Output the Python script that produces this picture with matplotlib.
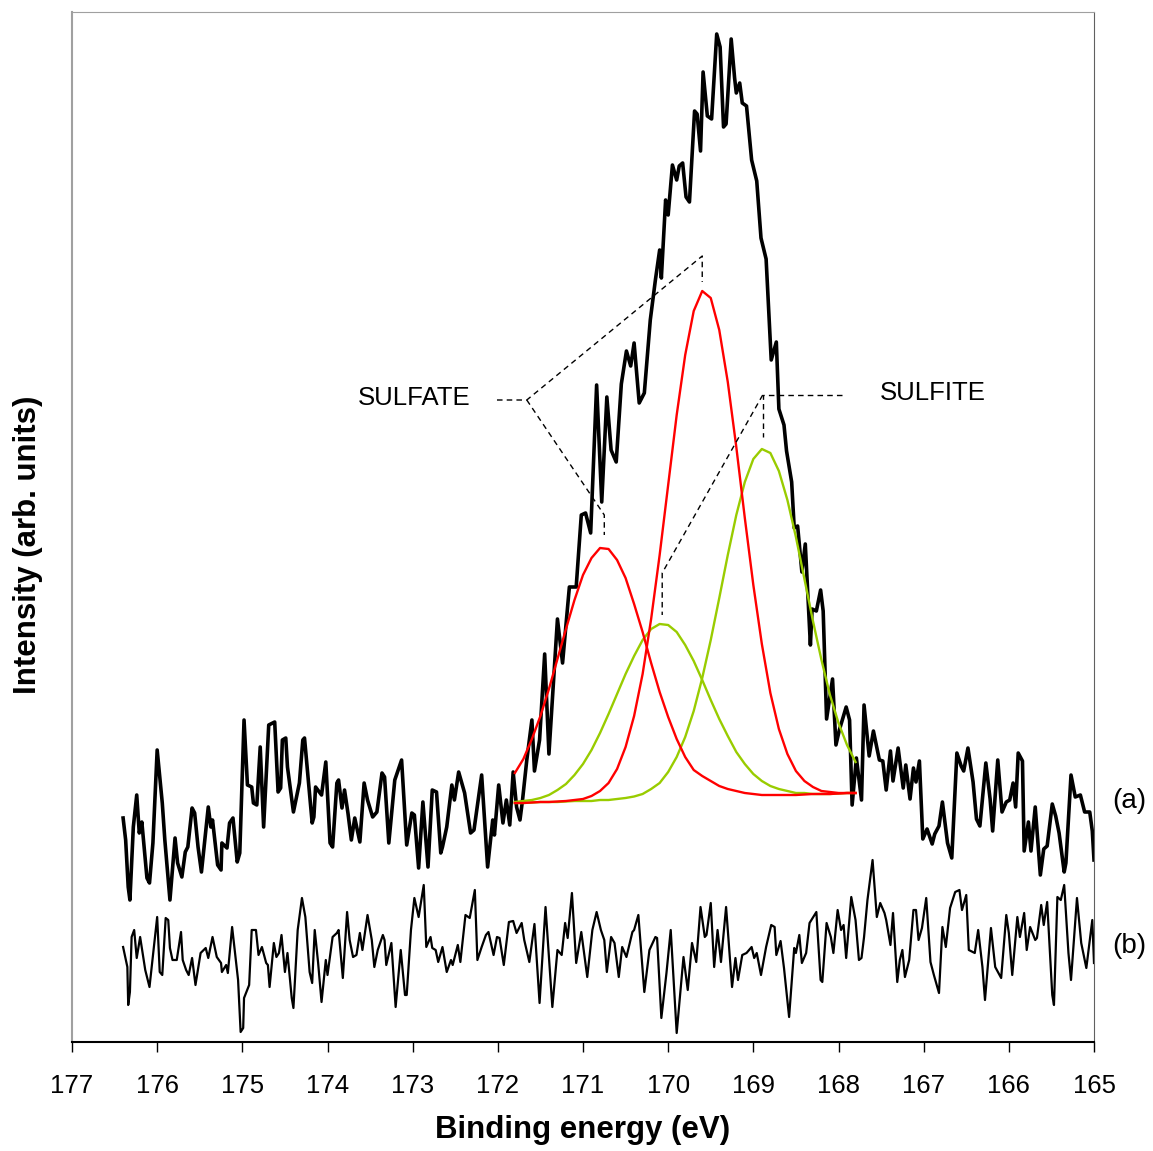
import matplotlib
matplotlib.use("Agg")
import matplotlib.pyplot as plt

plt.rcParams['font.family'] = ['Liberation Sans', 'DejaVu Sans']

# spectrum (a): binding energy (eV) and intensity (arb. units)
energy_a = [176.40, 176.37, 176.34, 176.32, 176.28, 176.24, 176.21, 176.18, 176.12, 176.09,
            176.05, 176.00, 175.94, 175.91, 175.85, 175.79, 175.76, 175.71, 175.67, 175.64,
            175.59, 175.56, 175.52, 175.48, 175.40, 175.37, 175.35, 175.29, 175.25, 175.24,
            175.18, 175.15, 175.11, 175.06, 175.03, 174.98, 174.94, 174.89, 174.87, 174.83,
            174.79, 174.75, 174.69, 174.62, 174.58, 174.55, 174.53, 174.49, 174.47, 174.40,
            174.33, 174.29, 174.27, 174.18, 174.16, 174.14, 174.07, 174.02, 173.97, 173.94,
            173.89, 173.87, 173.83, 173.80, 173.76, 173.72, 173.68, 173.62, 173.57, 173.53,
            173.47, 173.42, 173.36, 173.33, 173.28, 173.21, 173.13, 173.07, 173.01, 172.98,
            172.93, 172.88, 172.82, 172.77, 172.72, 172.67, 172.65, 172.60, 172.54, 172.51,
            172.46, 172.39, 172.32, 172.28, 172.19, 172.12, 172.06, 172.04, 171.99, 171.94,
            171.90, 171.86, 171.82, 171.78, 171.74, 171.71, 171.66, 171.60, 171.57, 171.51,
            171.45, 171.40, 171.30, 171.24, 171.16, 171.08, 171.02, 170.97, 170.91, 170.84,
            170.78, 170.72, 170.67, 170.61, 170.55, 170.49, 170.44, 170.40, 170.34, 170.28,
            170.21, 170.15, 170.10, 170.08, 170.03, 170.00, 169.95, 169.90, 169.87, 169.83,
            169.79, 169.75, 169.69, 169.66, 169.62, 169.59, 169.54, 169.49, 169.43, 169.39,
            169.35, 169.32, 169.26, 169.22, 169.20, 169.16, 169.13, 169.08, 169.02, 168.96,
            168.91, 168.85, 168.79, 168.73, 168.70, 168.64, 168.61, 168.55, 168.52, 168.48,
            168.43, 168.39, 168.33, 168.31, 168.26, 168.21, 168.18, 168.14, 168.07, 168.03,
            167.99, 167.91, 167.87, 167.84, 167.79, 167.73, 167.70, 167.64, 167.59, 167.52,
            167.48, 167.44, 167.39, 167.36, 167.30, 167.24, 167.21, 167.16, 167.12, 167.09,
            167.05, 167.01, 166.96, 166.90, 166.87, 166.82, 166.78, 166.72, 166.67, 166.61,
            166.56, 166.53, 166.48, 166.42, 166.38, 166.34, 166.27, 166.22, 166.19, 166.13,
            166.08, 166.03, 165.99, 165.95, 165.92, 165.89, 165.84, 165.82, 165.77, 165.74,
            165.69, 165.63, 165.59, 165.55, 165.49, 165.45, 165.41, 165.35, 165.33, 165.27,
            165.22, 165.16, 165.11, 165.05, 165.02, 165.00]
intensity_a = [224, 202, 155, 142, 215, 247, 209, 220, 164, 159,
               199, 292, 239, 202, 142, 204, 179, 165, 190, 195,
               234, 229, 195, 170, 235, 215, 222, 177, 172, 199,
               194, 219, 224, 180, 189, 322, 257, 255, 239, 237,
               295, 215, 317, 320, 250, 254, 302, 304, 275, 230,
               259, 302, 304, 219, 225, 255, 247, 280, 199, 195,
               259, 262, 234, 252, 229, 202, 224, 200, 259, 242,
               225, 230, 269, 265, 199, 262, 282, 197, 229, 227,
               174, 240, 175, 252, 250, 189, 195, 215, 257, 242,
               270, 249, 209, 212, 267, 175, 222, 207, 257, 219,
               242, 217, 270, 235, 222, 242, 282, 322, 271, 302,
               388, 288, 423, 379, 455, 455, 527, 529, 509, 657,
               540, 645, 592, 580, 658, 691, 676, 699, 639, 649,
               722, 762, 792, 764, 842, 827, 877, 862, 876, 879,
               845, 840, 931, 928, 891, 970, 926, 923, 1008, 995,
               915, 918, 1003, 964, 949, 959, 939, 936, 882, 861,
               804, 783, 682, 700, 633, 617, 591, 560, 514, 516,
               470, 498, 397, 433, 431, 452, 431, 323, 363, 297,
               312, 335, 322, 237, 284, 242, 337, 286, 311, 282,
               281, 252, 291, 261, 294, 254, 277, 243, 274, 260,
               281, 203, 213, 198, 208, 216, 240, 199, 184, 289,
               276, 271, 294, 260, 223, 216, 279, 243, 211, 282,
               230, 240, 242, 259, 235, 289, 281, 191, 220, 191,
               235, 167, 193, 196, 238, 226, 209, 170, 179, 267,
               245, 247, 230, 230, 211, 182]

# spectrum (b)
energy_b = [176.40, 176.35, 176.34, 176.32, 176.30, 176.27, 176.24, 176.20, 176.18, 176.14,
            176.09, 176.00, 175.97, 175.94, 175.90, 175.87, 175.85, 175.82, 175.77, 175.72,
            175.70, 175.66, 175.63, 175.59, 175.55, 175.49, 175.43, 175.40, 175.35, 175.30,
            175.25, 175.24, 175.19, 175.17, 175.12, 175.05, 175.02, 174.99, 174.98, 174.92,
            174.89, 174.84, 174.81, 174.77, 174.72, 174.70, 174.68, 174.63, 174.60, 174.57,
            174.54, 174.50, 174.47, 174.42, 174.40, 174.35, 174.30, 174.26, 174.21, 174.18,
            174.15, 174.11, 174.07, 174.02, 174.00, 173.94, 173.89, 173.87, 173.82, 173.77,
            173.74, 173.70, 173.66, 173.62, 173.59, 173.53, 173.48, 173.45, 173.41, 173.35,
            173.33, 173.31, 173.25, 173.20, 173.14, 173.09, 173.07, 173.02, 172.98, 172.93,
            172.87, 172.84, 172.79, 172.77, 172.73, 172.70, 172.65, 172.60, 172.55, 172.53,
            172.47, 172.44, 172.38, 172.33, 172.27, 172.24, 172.19, 172.14, 172.11, 172.05,
            172.01, 171.98, 171.93, 171.87, 171.82, 171.78, 171.72, 171.69, 171.63, 171.57,
            171.51, 171.44, 171.36, 171.30, 171.25, 171.21, 171.18, 171.13, 171.08, 171.02,
            170.95, 170.89, 170.84, 170.79, 170.75, 170.72, 170.67, 170.63, 170.58, 170.54,
            170.49, 170.42, 170.40, 170.35, 170.28, 170.22, 170.15, 170.13, 170.08, 170.02,
            169.97, 169.90, 169.82, 169.77, 169.72, 169.67, 169.62, 169.57, 169.55, 169.50,
            169.46, 169.42, 169.38, 169.32, 169.25, 169.21, 169.18, 169.13, 169.08, 169.02,
            168.99, 168.96, 168.91, 168.85, 168.79, 168.75, 168.73, 168.68, 168.64, 168.58,
            168.52, 168.50, 168.46, 168.43, 168.38, 168.34, 168.26, 168.21, 168.19, 168.14,
            168.09, 168.06, 168.01, 167.97, 167.94, 167.91, 167.85, 167.80, 167.76, 167.73,
            167.70, 167.66, 167.60, 167.55, 167.51, 167.46, 167.44, 167.39, 167.36, 167.31,
            167.28, 167.25, 167.22, 167.17, 167.12, 167.09, 167.06, 167.02, 166.97, 166.92,
            166.88, 166.82, 166.78, 166.74, 166.69, 166.63, 166.58, 166.55, 166.50, 166.47,
            166.40, 166.36, 166.31, 166.28, 166.21, 166.16, 166.09, 166.03, 166.00, 165.96,
            165.90, 165.87, 165.82, 165.79, 165.75, 165.69, 165.67, 165.62, 165.59, 165.55,
            165.49, 165.47, 165.43, 165.39, 165.35, 165.30, 165.27, 165.20, 165.15, 165.09,
            165.02, 165.00]
intensity_b = [95, 75, 37, 50, 105, 112, 84, 105, 94, 72,
               55, 125, 70, 67, 124, 122, 94, 82, 82, 110,
               82, 72, 67, 84, 57, 89, 94, 84, 105, 85,
               79, 70, 77, 69, 115, 62, 10, 14, 44, 57,
               112, 112, 87, 95, 79, 77, 55, 99, 85, 89,
               107, 70, 89, 44, 34, 112, 144, 125, 70, 59,
               112, 79, 40, 82, 67, 105, 109, 112, 64, 130,
               102, 85, 87, 109, 92, 127, 102, 75, 92, 107,
               102, 77, 99, 35, 92, 47, 47, 112, 144, 125,
               157, 95, 105, 94, 92, 80, 95, 70, 82, 77,
               97, 80, 127, 124, 152, 82, 95, 107, 110, 87,
               105, 104, 77, 120, 121, 109, 119, 102, 80, 118,
               39, 135, 35, 92, 87, 119, 104, 149, 79, 110,
               65, 112, 130, 112, 102, 70, 105, 99, 65, 95,
               85, 110, 112, 127, 50, 92, 105, 104, 24, 69,
               112, 9, 85, 52, 99, 80, 135, 105, 107, 139,
               75, 112, 80, 135, 55, 84, 62, 87, 89, 95,
               84, 89, 67, 95, 117, 115, 87, 101, 74, 25,
               94, 89, 107, 79, 89, 119, 130, 62, 60, 119,
               105, 89, 132, 112, 117, 84, 145, 122, 82, 84,
               105, 142, 182, 125, 139, 129, 122, 97, 129, 60,
               82, 92, 65, 82, 132, 132, 102, 114, 144, 80,
               67, 49, 115, 95, 134, 150, 152, 132, 147, 92,
               89, 112, 75, 42, 114, 75, 64, 127, 109, 67,
               125, 105, 129, 92, 115, 102, 104, 137, 117, 140,
               47, 37, 145, 142, 157, 89, 62, 144, 99, 74,
               122, 79]

# fitted components (incl. linear background) read at 0.1 eV steps
energy_fit = [171.8, 171.7, 171.6, 171.5, 171.4, 171.3, 171.2, 171.1, 171.0, 170.9,
              170.8, 170.7, 170.6, 170.5, 170.4, 170.3, 170.2, 170.1, 170.0, 169.9,
              169.8, 169.7, 169.6, 169.5, 169.4, 169.3, 169.2, 169.1, 169.0, 168.9,
              168.8, 168.7, 168.6, 168.5, 168.4, 168.3, 168.2, 168.1, 168.0, 167.9,
              167.8]
sulfate_1 = [269, 283, 303, 326, 353, 383, 413, 442, 467, 484,
             494, 493, 482, 464, 438, 410, 379, 350, 325, 303,
             285, 272, 266, 261, 256, 253, 251, 249, 248, 247,
             247, 247, 247, 247, 247.5, 248, 248, 248, 248.5, 249,
             249]
sulfate_2 = [239, 239, 239.5, 240, 240, 240.5, 241, 242, 243, 246,
             251, 259, 273, 295, 326, 368, 423, 487, 557, 627,
             687, 731, 751, 744, 712, 660, 595, 524, 457, 398,
             349, 313, 288, 271, 261, 255, 251, 250, 249, 249,
             249]
sulfite_1 = [240, 241, 242, 244, 247, 252, 258, 267, 278, 292,
             309, 328, 348, 368, 386, 402, 413, 418, 417, 410,
             397, 381, 362, 342, 323, 306, 290, 278, 268, 261,
             256, 253, 251, 249, 249, 248, 248, 248, 248.5, 249,
             249]
sulfite_2 = [239, 239, 239.5, 240, 240, 240, 240.5, 241, 241, 241,
             242, 242, 243, 244, 245.5, 248, 253, 259, 270, 285,
             305, 331, 364, 402, 444, 487, 527, 560, 583, 593,
             589, 571, 542, 505, 463, 421, 382, 347, 319, 297,
             280]

fig = plt.figure(figsize=(11.53, 11.51), dpi=100)
ax = fig.add_axes([72 / 1153, 1 - 1042 / 1151, (1094 - 72) / 1153, (1042 - 12) / 1151])

ax.plot(energy_a, intensity_a, color='black', lw=2.6, solid_joinstyle='round')
ax.plot(energy_b, intensity_b, color='black', lw=1.6, solid_joinstyle='round')
ax.plot(energy_fit, sulfite_1, color='#99cc00', lw=1.7)
ax.plot(energy_fit, sulfite_2, color='#99cc00', lw=1.7)
ax.plot(energy_fit, sulfate_1, color='#ff0000', lw=1.7)
ax.plot(energy_fit, sulfate_2, color='#ff0000', lw=1.7)

# annotation leader lines
dash = dict(color='black', lw=1, ls=(0, (4, 3)))
ax.plot([172.01, 171.66, 169.60, 169.60], [642, 642, 786, 760], **dash)
ax.plot([171.66, 170.75, 170.75], [642, 527, 507], **dash)
ax.plot([167.96, 168.89, 168.89], [647, 647, 605], **dash)
ax.plot([168.89, 170.07, 170.07], [647, 469, 427], **dash)
ax.text(172.98, 644, 'SULFATE', fontsize=18.5, ha='center', va='center')
ax.text(166.89, 649, 'SULFITE', fontsize=18.5, ha='center', va='center')
ax.text(164.59, 241, '(a)', fontsize=20, ha='center', va='center', clip_on=False)
ax.text(164.59, 96, '(b)', fontsize=20, ha='center', va='center', clip_on=False)

ax.set_xlim(177, 165)
ax.set_ylim(0, 1030)
ax.set_xticks(range(177, 164, -1))
ax.set_yticks([])
ax.tick_params(axis='x', direction='out', length=7, width=1, labelsize=18.5, pad=16)
ax.spines['left'].set_color('#a0a0a0')
ax.spines['left'].set_linewidth(1.5)
ax.spines['top'].set_color('#a0a0a0')
ax.spines['right'].set_color('#606060')
ax.spines['bottom'].set_linewidth(1.5)

fig.text(582.5 / 1153, 1 - 1130 / 1151, 'Binding energy (eV)', fontsize=22.5,
         fontweight='bold', ha='center', va='center')
fig.text(28 / 1153, 1 - 545 / 1151, 'Intensity (arb. units)', fontsize=22.5,
         fontweight='bold', ha='center', va='center', rotation=90)

fig.savefig('out.png', dpi=100)
